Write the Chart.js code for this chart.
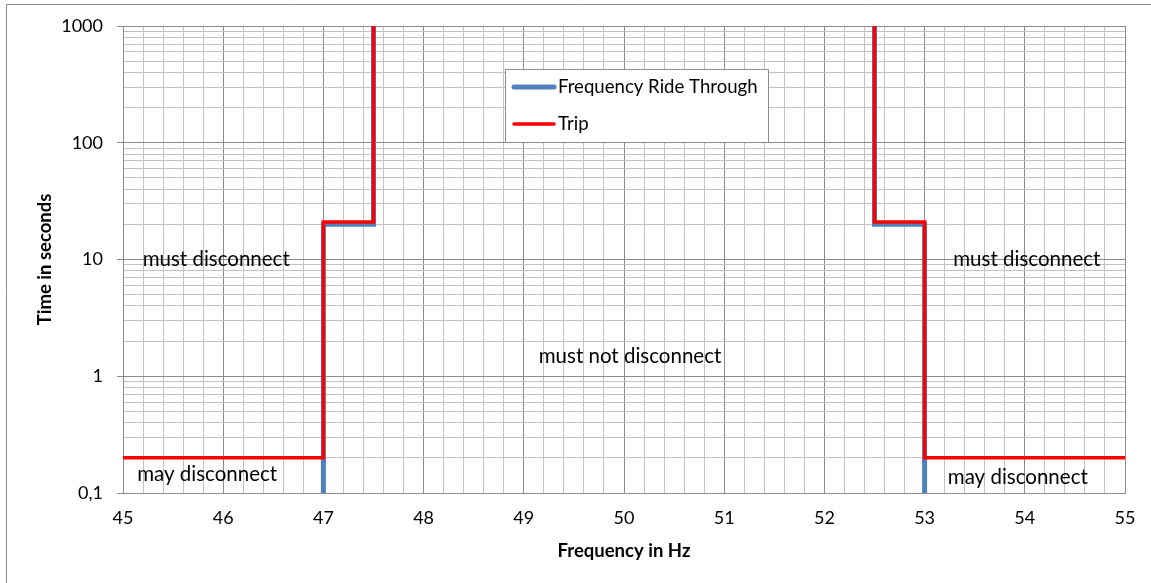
<!DOCTYPE html>
<html>
<head>
<meta charset="utf-8">
<title>Frequency ride through</title>
<script src="https://cdn.jsdelivr.net/npm/chart.js@4.4.1/dist/chart.umd.min.js"></script>
<style>
    html, body { margin: 0; padding: 0; background: #fff; }
    #wrap { width: 1151px; height: 583px; position: relative; }
</style>
</head>
<body>
<div id="wrap"><canvas id="freqChart"></canvas></div>
<script>
// Ride through curve (blue), null splits the low and high frequency side
const rideFreq = [47, 47, 47.5, 47.5, null, 52.5, 52.5, 53, 53];
const rideTime = [0.1, 20, 20, 1000, null, 1000, 20, 20, 0.1];

// Trip curve (red)
const tripFreq = [45, 47, 47, 47.5, 47.5, null, 52.5, 52.5, 53, 53, 55];
const tripTime = [0.2, 0.2, 21, 21, 1000, null, 1000, 21, 21, 0.2, 0.2];

const seriesNames = ['Frequency Ride Through', 'Trip'];

const xTickLabels = ['45', '46', '47', '48', '49', '50', '51', '52', '53', '54', '55'];
const yDecades = [0.1, 1, 10, 100, 1000];
const yTickLabels = ['0,1', '1', '10', '100', '1000'];

// region captions (frequency / time where they sit)
const regionTexts = ['must disconnect', 'must not disconnect', 'must disconnect', 'may disconnect', 'may disconnect'];
const regionFreq = [45.93, 50.06, 54.02, 45.84, 53.93];
const regionTime = [10, 1.48, 10, 0.143, 0.137];

const FONT = 'Lato, "Open Sans", sans-serif';
const MAJOR = '#8a8a8a';
const MINOR = '#c2c2c2';

const toPoints = (xs, ys) => xs.map((x, i) => (x === null ? { x: NaN, y: NaN } : { x: x, y: ys[i] }));

const isIntTick = v => Math.abs(v - Math.round(v)) < 1e-6;
const decadeIndex = v => yDecades.findIndex(d => Math.abs(v / d - 1) < 1e-6);

// Outer frame of the chart object (only top/left visible in the picture)
const framePlugin = {
    id: 'frame',
    beforeDraw(chart) {
        const ctx = chart.ctx;
        ctx.save();
        ctx.strokeStyle = '#8c8c8c';
        ctx.lineWidth = 1;
        ctx.beginPath();
        ctx.moveTo(6.5, chart.height);
        ctx.lineTo(6.5, 4.5);
        ctx.lineTo(chart.width, 4.5);
        ctx.stroke();
        ctx.restore();
    }
};

// Region captions + boxed legend inside the plot
const overlayPlugin = {
    id: 'overlay',
    afterDraw(chart) {
        const ctx = chart.ctx;
        const xs = chart.scales.x, ys = chart.scales.y;
        ctx.save();

        ctx.fillStyle = '#000';
        ctx.font = '20.5px ' + FONT;
        ctx.textAlign = 'center';
        ctx.textBaseline = 'middle';
        regionTexts.forEach((t, i) => {
            ctx.fillText(t, xs.getPixelForValue(regionFreq[i]), ys.getPixelForValue(regionTime[i]));
        });

        // legend box
        const bx = 505.5, by = 69.5, bw = 263, bh = 73;
        ctx.fillStyle = '#fff';
        ctx.fillRect(bx, by, bw, bh);
        ctx.strokeStyle = '#8c8c8c';
        ctx.lineWidth = 1;
        ctx.strokeRect(bx, by, bw, bh);

        ctx.textAlign = 'left';
        ctx.font = '18.6px ' + FONT;
        chart.data.datasets.forEach((ds, i) => {
            const rowY = 87 + i * 37;
            ctx.strokeStyle = ds.borderColor;
            ctx.lineWidth = ds.borderWidth;
            ctx.lineCap = 'round';
            ctx.beginPath();
            ctx.moveTo(514, rowY);
            ctx.lineTo(554, rowY);
            ctx.stroke();
            ctx.fillStyle = '#000';
            ctx.fillText(ds.label, 558, rowY);
        });
        ctx.restore();
    }
};

const ctx = document.getElementById('freqChart').getContext('2d');
const chart = new Chart(ctx, {
    type: 'scatter',
    data: {
        datasets: [{
            label: seriesNames[0],
            data: toPoints(rideFreq, rideTime),
            borderColor: '#4f81bd',
            backgroundColor: '#4f81bd',
            borderWidth: 5,
            order: 1
        }, {
            label: seriesNames[1],
            data: toPoints(tripFreq, tripTime),
            borderColor: '#ff0000',
            backgroundColor: '#ff0000',
            borderWidth: 3.5,
            order: 0
        }]
    },
    options: {
        responsive: true,
        maintainAspectRatio: false,
        animation: false,
        layout: { padding: { top: 26, right: 26, left: 0, bottom: 0 } },
        elements: {
            point: { radius: 0, hoverRadius: 0 },
            line: { borderJoinStyle: 'miter', borderCapStyle: 'butt', tension: 0 }
        },
        datasets: { scatter: { showLine: true, spanGaps: false } },
        plugins: {
            legend: { display: false },
            tooltip: { enabled: false }
        },
        scales: {
            x: {
                type: 'linear',
                min: Number(xTickLabels[0]),
                max: Number(xTickLabels[xTickLabels.length - 1]),
                afterBuildTicks: scale => {
                    const ticks = [];
                    const first = Number(xTickLabels[0]);
                    const steps = (xTickLabels.length - 1) * 5; // 0.2 Hz minor grid
                    for (let i = 0; i <= steps; i++) ticks.push({ value: first + i / 5 });
                    scale.ticks = ticks;
                },
                afterFit: scale => { scale.height = 90; },
                grid: {
                    color: c => (isIntTick(c.tick.value) ? MAJOR : MINOR),
                    drawTicks: false
                },
                border: { color: MAJOR },
                ticks: {
                    autoSkip: false,
                    maxRotation: 0,
                    padding: 14,
                    color: '#000',
                    font: { family: FONT, size: 18 },
                    callback: v => (isIntTick(v) ? xTickLabels[Math.round(v) - Number(xTickLabels[0])] : '')
                },
                title: {
                    display: true,
                    text: 'Frequency in Hz',
                    color: '#000',
                    font: { family: FONT, size: 18.5, weight: 'bold' },
                    padding: { top: 0, bottom: 21 }
                }
            },
            y: {
                type: 'logarithmic',
                min: yDecades[0],
                max: yDecades[yDecades.length - 1],
                afterBuildTicks: scale => {
                    const ticks = [];
                    for (let d = 0; d < yDecades.length - 1; d++) {
                        for (let m = 1; m <= 9; m++) ticks.push({ value: yDecades[d] * m });
                    }
                    ticks.push({ value: yDecades[yDecades.length - 1] });
                    scale.ticks = ticks;
                },
                afterFit: scale => { scale.width = 123; },
                grid: {
                    color: c => (decadeIndex(c.tick.value) >= 0 ? MAJOR : MINOR),
                    tickColor: c => (decadeIndex(c.tick.value) >= 0 ? MAJOR : 'rgba(0,0,0,0)'),
                    tickLength: 6
                },
                border: { color: MAJOR },
                ticks: {
                    autoSkip: false,
                    padding: 14,
                    color: '#000',
                    font: { family: FONT, size: 18 },
                    callback: v => {
                        const i = decadeIndex(v);
                        return i >= 0 ? yTickLabels[i] : '';
                    }
                },
                title: {
                    display: true,
                    text: 'Time in seconds',
                    color: '#000',
                    font: { family: FONT, size: 18.5, weight: 'bold' },
                    padding: { top: 34, bottom: 0 }
                }
            }
        }
    },
    plugins: [framePlugin, overlayPlugin]
});
</script>
</body>
</html>
